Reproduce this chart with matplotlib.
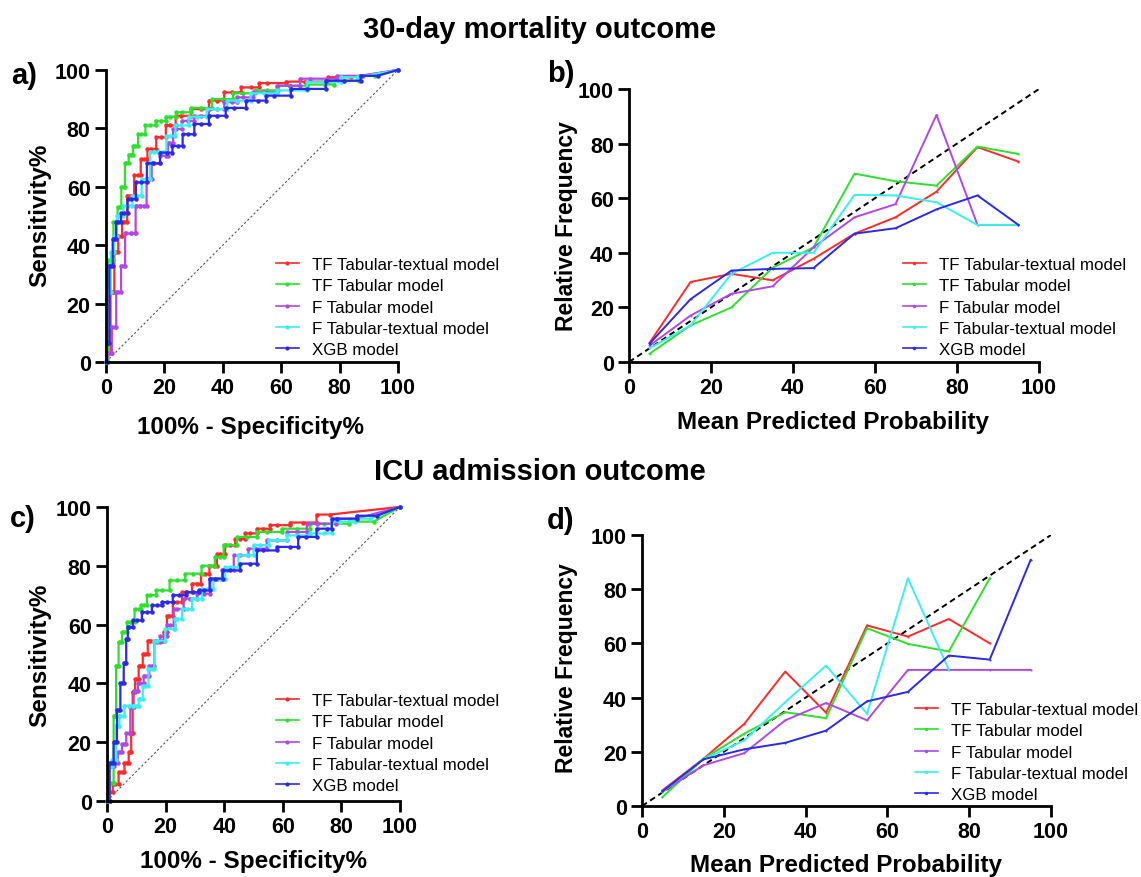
import matplotlib
matplotlib.use("Agg")
import matplotlib.pyplot as plt

plt.rcParams['font.family'] = ['Liberation Sans', 'DejaVu Sans']

models = ["TF Tabular-textual model", "TF Tabular model", "F Tabular model",
          "F Tabular-textual model", "XGB model"]
colors = ["#ff2a2a", "#2ee02e", "#b048e8", "#38f0f0", "#2a2ae8"]

# ---- ROC, 30-day mortality (fpr, tpr vertices) ----
a_fpr = {
    "TF Tabular-textual model": [0, 0.8, 2.3, 3.4, 5, 6, 8.5, 10.8, 13, 15.4, 19, 22, 25.7, 32.5, 38, 43, 49.6, 55.3, 68, 84, 100],
    "TF Tabular model": [0, 1.7, 3.4, 4.5, 6, 7, 8.5, 10, 12, 15, 19, 22, 26, 32.5, 40, 47, 55, 63, 75, 81.5, 92, 100],
    "F Tabular model": [0, 1, 3, 4, 6.3, 6.8, 10, 10.3, 13, 14.8, 16.5, 20.5, 22, 24, 28, 32.5, 38, 43, 47, 54, 63, 70, 88, 100],
    "F Tabular-textual model": [0, 0.5, 1, 2.3, 3, 4.5, 7.4, 10.7, 13.7, 16.5, 19.4, 22, 25.6, 31, 38, 45, 54, 63, 74.7, 86, 100],
    "XGB model": [0, 0.6, 1.7, 2.9, 4, 6.3, 8.5, 12, 16, 21, 24.5, 28, 32.5, 38, 44, 52, 57.6, 69, 81.5, 93, 100],
}
a_tpr = {
    "TF Tabular-textual model": [0, 3, 24, 37.5, 43, 48, 57, 64, 69.5, 73, 77, 81, 84.3, 86.6, 89.5, 92.3, 94, 95.5, 96, 97.5, 100],
    "TF Tabular model": [0, 35, 48, 53, 60, 68, 71, 74, 78, 81, 82.6, 84, 85.5, 87, 90, 92, 93, 94.6, 95, 96.3, 98, 100],
    "F Tabular model": [0, 3, 12, 24, 33, 44, 44, 53.5, 53.5, 62.6, 68, 70.6, 75, 79.8, 82.6, 84.3, 86.6, 89, 90.6, 92.3, 94.6, 97, 98, 100],
    "F Tabular-textual model": [0, 12, 24, 37.5, 43, 50, 53.5, 57, 62.6, 72, 72, 77.5, 81, 84, 86.6, 89.5, 92, 93, 95.8, 97.5, 100],
    "XGB model": [0, 6.6, 33, 42, 48, 51, 55.7, 61.5, 68, 71.7, 74, 78, 81.5, 84.3, 87, 89.5, 91.2, 93.5, 96.3, 98, 100],
}

# ---- ROC, ICU admission ----
c_fpr = {
    "TF Tabular-textual model": [0, 1.1, 2.8, 5.1, 6.8, 8, 8.5, 9, 10.2, 11.4, 13, 14.8, 18.8, 19.9, 21, 23.9, 27.3, 30.7, 33.5, 36.4, 38.6, 42, 45.5, 48.9, 53.4, 58, 67, 76, 100],
    "TF Tabular model": [0, 1.7, 2.8, 3.4, 4.5, 5.7, 8, 10.8, 12.5, 14.8, 18.8, 23.9, 29.5, 35, 38.6, 41, 47.7, 54.5, 64.8, 73.9, 91, 100],
    "F Tabular model": [0, 1.7, 2.8, 4.5, 5.7, 7.4, 8.5, 9.7, 11.4, 13.6, 15.3, 17, 19.3, 21.6, 23.9, 28.4, 33, 37.5, 41, 45.5, 51, 58, 64.8, 71.6, 85, 100],
    "F Tabular-textual model": [0, 1.1, 2.3, 4, 4.5, 7.4, 10.2, 11.4, 13, 15.3, 17, 22.7, 23.9, 27.3, 30.7, 34, 38.6, 42, 47.7, 52.3, 58, 64.8, 73.9, 79.5, 89.8, 100],
    "XGB model": [0, 1.7, 2.8, 4, 5.1, 6.3, 6.8, 7.4, 10.2, 13.6, 17, 20.5, 24.4, 29.5, 33, 37, 42, 48.9, 53.4, 62.5, 68, 75, 78.4, 92, 100],
}
c_tpr = {
    "TF Tabular-textual model": [0, 3, 5.7, 9.7, 13, 16.5, 23, 37, 41.5, 46, 50, 54.5, 54.5, 57.4, 63, 67.6, 71, 73.9, 77.3, 80, 84, 87, 89.2, 91, 92.6, 93.8, 94.7, 97.4, 100],
    "TF Tabular model": [0, 6, 29, 46, 54, 57.4, 60.8, 65.3, 66.5, 70, 71.6, 75, 77.3, 80, 83, 87, 89.8, 91.5, 92.6, 94.3, 95, 100],
    "F Tabular model": [0, 12, 13, 16.5, 19.3, 23, 32, 37.5, 40, 42.6, 46, 54, 56, 59.7, 65.3, 68.8, 70.5, 75.6, 78.4, 83.5, 85.8, 88.6, 91.5, 94.3, 96, 100],
    "F Tabular-textual model": [0, 12, 14, 25.5, 29, 32.4, 32.4, 34.7, 39, 45, 54.5, 58.5, 62, 65.3, 68.8, 72, 75.6, 79.5, 83.5, 87, 88.6, 90.3, 91, 95, 96, 100],
    "XGB model": [0, 13, 20, 31, 40, 47, 55, 59, 61.4, 64.2, 66.5, 67.6, 70, 71, 71.6, 75.6, 78.4, 80.7, 85.2, 86.4, 89.8, 92.6, 96, 97, 100],
}

# ---- calibration ----
bins = [5, 15, 25, 35, 45, 55, 65, 75, 85, 95]
b_freq = {
    "TF Tabular-textual model": [7, 29.3, 32.3, 29.9, 37.8, 47, 53, 62.4, 78.7, 73.4],
    "TF Tabular model": [3, 13.4, 20, 34.5, 42, 69, 66.2, 64.6, 78.9, 76.2],
    "F Tabular model": [6, 17, 25, 27.7, 42, 53, 57.8, 90.5, 50.2, 50.2],
    "F Tabular-textual model": [5, 13.4, 32.3, 40, 40, 61.2, 61, 58.5, 50.2, 50.2],
    "XGB model": [6.7, 23, 33.5, 34.1, 34.4, 47, 49, 55.9, 61, 50.2],
}
d_freq = {
    "TF Tabular-textual model": [5.8, 17.4, 30.3, 49.6, 34.4, 66.6, 62.5, 69, 60],
    "TF Tabular model": [3.3, 17.4, 26.7, 34.6, 32.4, 65.6, 59.8, 57, 84],
    "F Tabular model": [5.2, 15, 19.5, 31.6, 38, 31.6, 50.2, 50.2, 50.2, 50.2],
    "F Tabular-textual model": [5.2, 17.2, 24.2, 38.3, 51.8, 34, 84, 50.2],
    "XGB model": [5.4, 17.2, 20.9, 23.3, 27.8, 38.6, 42.1, 55.5, 54, 90.8],
}

ticks = [0, 20, 40, 60, 80, 100]


def style_axes(ax):
    ax.set_xlim(0, 100)
    ax.set_ylim(0, 100)
    ax.set_xticks(ticks)
    ax.set_yticks(ticks)
    for s in ['top', 'right']:
        ax.spines[s].set_visible(False)
    for s in ['left', 'bottom']:
        ax.spines[s].set_linewidth(2.0)
    ax.tick_params(direction='out', length=8, width=2.0, pad=3, labelsize=15.5)
    for lab in ax.get_xticklabels() + ax.get_yticklabels():
        lab.set_fontweight('bold')


def add_legend(ax, legend_xy, msize):
    leg = ax.legend(loc='upper left', bbox_to_anchor=legend_xy,
                    bbox_transform=ax.figure.transFigure, frameon=False,
                    fontsize=12.2, borderpad=0, handlelength=1.35,
                    handletextpad=0.75, labelspacing=0.37, borderaxespad=0)
    for h in leg.legend_handles:
        h.set_linewidth(1.2)
        h.set_markersize(msize)


def roc_panel(ax, fpr, tpr, legend_xy):
    ax.plot([0, 100], [0, 100], ls=(0, (2, 2)), color='#555555', lw=0.8)
    for name, col in zip(models, colors):
        xs, ys = fpr[name], tpr[name]
        # staircase: the jump sits halfway between vertices, last leg straight
        sx, sy = [xs[0]], [ys[0]]
        for i in range(1, len(xs) - 1):
            xm = (xs[i - 1] + xs[i]) / 2
            sx += [xm, xm, xs[i]]
            sy += [ys[i - 1], ys[i], ys[i]]
        sx.append(xs[-1])
        sy.append(ys[-1])
        ax.plot(sx, sy, color=col, lw=1.6, marker='o', markersize=2.2,
                label=name, clip_on=False)
    style_axes(ax)
    add_legend(ax, legend_xy, 2)


def calib_panel(ax, freq, legend_xy):
    ax.plot([0, 100], [0, 100], ls=(0, (3, 2)), color='black', lw=1.4)
    for name, col in zip(models, colors):
        ys = freq[name]
        ax.plot(bins[:len(ys)], ys, color=col, lw=1.4, marker='.',
                markersize=1, label=name)
    style_axes(ax)
    add_legend(ax, legend_xy, 3)


fig = plt.figure(figsize=(11.41, 8.78), dpi=100)
W, H = 1141, 878

ax_a = fig.add_axes([0.0929, 0.5866, 0.2559, 0.3326])
ax_b = fig.add_axes([0.5513, 0.5866, 0.3593, 0.3109])
ax_c = fig.add_axes([0.0938, 0.0866, 0.2568, 0.3349])
ax_d = fig.add_axes([0.5627, 0.0809, 0.3585, 0.3087])

roc_panel(ax_a, a_fpr, a_tpr, (276 / W, 1 - 258 / H))
calib_panel(ax_b, b_freq, (903 / W, 1 - 258 / H))
roc_panel(ax_c, c_fpr, c_tpr, (276 / W, 1 - 694 / H))
calib_panel(ax_d, d_freq, (915 / W, 1 - 703 / H))


def ftext(x, y, s, **kw):
    fig.text(x / W, 1 - y / H, s, fontweight='bold', ha='center', va='center', **kw)


ftext(540, 30, "30-day mortality outcome", fontsize=21)
ftext(540, 472, "ICU admission outcome", fontsize=21)

ftext(24, 76, "a)", fontsize=21)
ftext(561, 74, "b)", fontsize=21)
ftext(23, 519, "c)", fontsize=21)
ftext(561, 521, "d)", fontsize=21)

ftext(40, 215, "Sensitivity%", fontsize=17.5, rotation=90)
ftext(40, 655, "Sensitivity%", fontsize=17.5, rotation=90)
ftext(567, 226, "Relative Frequency", fontsize=16.5, rotation=90)
ftext(567, 668, "Relative Frequency", fontsize=16.5, rotation=90)
ftext(251, 428, "100% - Specificity%", fontsize=17.5)
ftext(253, 862, "100% - Specificity%", fontsize=17.5)
ftext(833, 423, "Mean Predicted Probability", fontsize=17.5)
ftext(846, 866, "Mean Predicted Probability", fontsize=17.5)

fig.savefig("out.png", dpi=100)
